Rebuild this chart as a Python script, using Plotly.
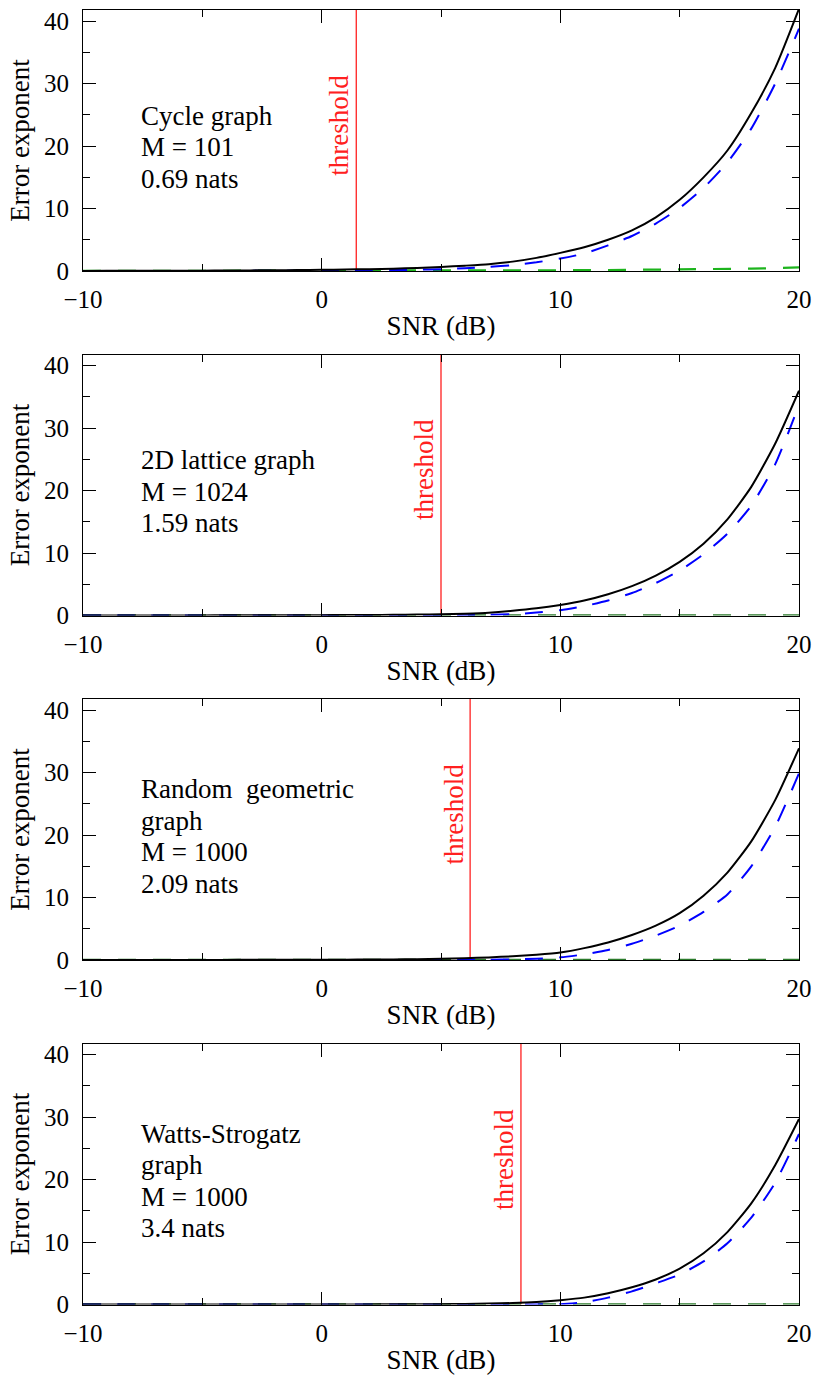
import plotly.graph_objects as go

snr = list(range(-10, 21))

# Panel 1: Cycle graph
black1 = [0.02, 0.03, 0.03, 0.04, 0.05, 0.06, 0.08, 0.10, 0.12, 0.15, 0.19, 0.24, 0.30, 0.38, 0.50,
          0.64, 0.85, 1.1, 1.5, 2.1, 2.9, 3.8, 5.0, 6.5, 8.6, 11.4, 15.0, 19.3, 25.3, 32.5, 42.0]
blue1 = [0.0, 0.0, 0.0, 0.01, 0.01, 0.01, 0.02, 0.02, 0.03, 0.04, 0.05, 0.07, 0.10, 0.15, 0.20,
         0.30, 0.45, 0.65, 0.95, 1.4, 2.0, 2.8, 4.1, 5.6, 7.6, 10.1, 13.3, 17.4, 22.8, 30.0, 38.8]
green1 = [0.01, 0.01, 0.01, 0.02, 0.02, 0.02, 0.03, 0.03, 0.03, 0.04, 0.04, 0.04, 0.05, 0.05, 0.05,
          0.06, 0.07, 0.08, 0.09, 0.10, 0.12, 0.13, 0.15, 0.17, 0.20, 0.23, 0.27, 0.32, 0.38, 0.47, 0.58]

# Panel 2: 2D lattice graph
black2 = [0.01, 0.01, 0.01, 0.02, 0.02, 0.02, 0.03, 0.03, 0.04, 0.05, 0.06, 0.07, 0.09, 0.11, 0.15,
          0.20, 0.30, 0.45, 0.75, 1.15, 1.7, 2.4, 3.4, 4.7, 6.4, 8.6, 11.5, 15.4, 20.6, 27.5, 36.0]
blue2 = [0.0, 0.0, 0.0, 0.0, 0.0, 0.0, 0.0, 0.0, 0.0, 0.01, 0.01, 0.01, 0.02, 0.02, 0.03,
         0.04, 0.06, 0.10, 0.22, 0.47, 0.85, 1.5, 2.4, 3.6, 5.2, 7.2, 9.8, 13.1, 17.6, 24.2, 33.7]
green2 = [0.02] * 31

# Panel 3: Random geometric graph
black3 = [0.01, 0.01, 0.01, 0.01, 0.02, 0.02, 0.02, 0.03, 0.03, 0.04, 0.05, 0.06, 0.08, 0.10, 0.14,
          0.20, 0.30, 0.42, 0.60, 0.85, 1.2, 1.9, 2.8, 4.0, 5.5, 7.5, 10.3, 14.0, 19.0, 25.6, 33.9]
blue3 = [0.0, 0.0, 0.0, 0.0, 0.0, 0.0, 0.0, 0.0, 0.0, 0.0, 0.0, 0.0, 0.01, 0.01, 0.01,
         0.02, 0.03, 0.05, 0.10, 0.20, 0.43, 0.9, 1.6, 2.6, 3.9, 5.5, 7.7, 10.5, 15.0, 21.3, 29.9]
green3 = [0.02] * 31

# Panel 4: Watts-Strogatz graph
black4 = [0.0, 0.0, 0.0, 0.0, 0.0, 0.01, 0.01, 0.01, 0.01, 0.01, 0.02, 0.02, 0.02, 0.03, 0.04,
          0.05, 0.10, 0.15, 0.23, 0.40, 0.7, 1.1, 1.8, 2.75, 4.0, 5.75, 8.2, 11.6, 16.2, 22.3, 29.7]
blue4 = [0.0, 0.0, 0.0, 0.0, 0.0, 0.0, 0.0, 0.0, 0.0, 0.0, 0.0, 0.0, 0.0, 0.0, 0.0,
         0.0, 0.0, 0.01, 0.01, 0.02, 0.05, 0.35, 1.1, 2.1, 3.4, 4.8, 6.9, 9.8, 13.9, 19.5, 27.3]
green4 = [0.02] * 31

black_series = [black1, black2, black3, black4]
blue_series = [blue1, blue2, blue3, blue4]
green_series = [green1, green2, green3, green4]
green_colors = ["#1db41d", "#2b7a2b", "#2b7a2b", "#2b7a2b"]

thresholds = [1.45, 5.0, 6.22, 8.35]
threshold_span = [0, 42]
panel_labels = [
    ["Cycle graph", "M = 101", "0.69 nats"],
    ["2D lattice graph", "M = 1024", "1.59 nats"],
    ["Random\u00a0 geometric", "graph", "M = 1000", "2.09 nats"],
    ["Watts-Strogatz", "graph", "M = 1000", "3.4 nats"],
]

FONT = "Liberation Serif, serif"
TICK_FS = 25
TEXT_FS = 27
W, H = 816, 1377
tops = [10, 354.5, 699, 1043.5]
ph = 261
pw = 716
line_gap = 31.5
block_center = 137.3

fig = go.Figure()
layout = dict(
    width=W, height=H,
    margin=dict(l=83, r=17, t=0, b=0, autoexpand=False),
    paper_bgcolor="white", plot_bgcolor="white",
    showlegend=False,
    font=dict(family=FONT, size=TICK_FS, color="black"),
)
annotations = []

for i in range(4):
    n = "" if i == 0 else str(i + 1)
    xa, ya = "x" + n, "y" + n
    fig.add_trace(go.Scatter(x=[thresholds[i], thresholds[i]], y=threshold_span, mode="lines",
                             line=dict(color="#ff2020", width=1.3), xaxis=xa, yaxis=ya))
    fig.add_trace(go.Scatter(x=snr, y=green_series[i], mode="lines",
                             line=dict(color=green_colors[i], width=2.2, dash="18px,17px"), xaxis=xa, yaxis=ya))
    fig.add_trace(go.Scatter(x=snr, y=blue_series[i], mode="lines",
                             line=dict(color="#0000ff", width=2, dash="18px,16px", shape="spline", smoothing=0.6),
                             xaxis=xa, yaxis=ya))
    fig.add_trace(go.Scatter(x=snr, y=black_series[i], mode="lines",
                             line=dict(color="black", width=2, shape="spline", smoothing=0.6),
                             xaxis=xa, yaxis=ya))

    top = tops[i]
    dom = [1 - (top + ph) / H, 1 - top / H]
    common = dict(
        ticks="inside", ticklen=13, tickwidth=1, tickcolor="black",
        showline=True, linecolor="black", linewidth=1, mirror="ticks",
        showgrid=False, zeroline=False, automargin=False,
        tickfont=dict(family=FONT, size=TICK_FS, color="black"),
    )
    layout["xaxis" + n] = dict(
        domain=[0, 1], anchor=ya, range=[-10, 20], tick0=0, dtick=10,
        minor=dict(ticks="inside", ticklen=7, dtick=5, tickwidth=1, tickcolor="black", showgrid=False),
        ticklabelstandoff=6,
        title=dict(text="SNR (dB)", standoff=4, font=dict(family=FONT, size=TEXT_FS, color="black")),
        **common,
    )
    layout["yaxis" + n] = dict(
        domain=dom, anchor=xa, range=[0, 41.8], tick0=0, dtick=10,
        minor=dict(ticks="inside", ticklen=7, dtick=5, tickwidth=1, tickcolor="black", showgrid=False),
        ticklabelstandoff=8,
        title=dict(text="Error exponent", standoff=6, font=dict(family=FONT, size=TEXT_FS, color="black")),
        **common,
    )
    lines = panel_labels[i]
    k = len(lines)
    for j, txt in enumerate(lines):
        off = block_center + (j - (k - 1) / 2) * line_gap
        annotations.append(dict(
            text=txt, xref=xa + " domain", yref=ya + " domain",
            x=(140 - 83) / pw, y=1 - off / ph, xanchor="left", yanchor="middle",
            align="left", showarrow=False, borderpad=0,
            font=dict(family=FONT, size=TEXT_FS, color="black"),
        ))
    annotations.append(dict(
        text="threshold", xref=xa, yref=ya + " domain",
        x=thresholds[i], y=1 - 115.5 / ph, xanchor="right", yanchor="middle",
        textangle=-90, showarrow=False, xshift=-1, borderpad=0,
        font=dict(family=FONT, size=TEXT_FS, color="#ff2020"),
    ))

layout["annotations"] = annotations
fig.update_layout(**layout)
fig.write_html("out.html", config={"displayModeBar": False},
               post_script="document.body.style.margin='0';document.body.style.padding='0';")
